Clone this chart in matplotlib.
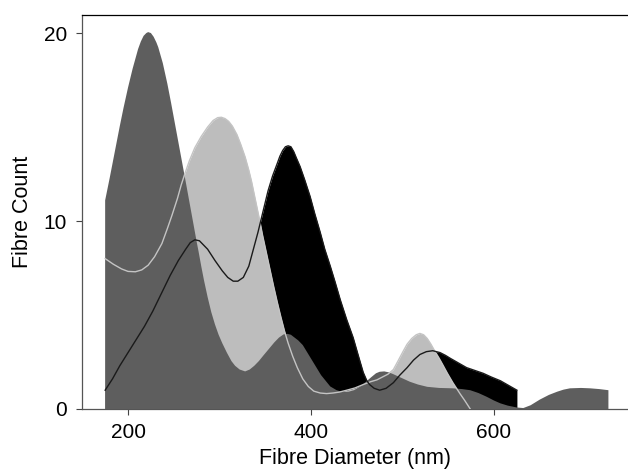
import matplotlib
matplotlib.use("Agg")
import matplotlib.pyplot as plt

plt.rcParams['font.family'] = ['Liberation Sans', 'DejaVu Sans']

# values (fibre diameter nm -> fibre count)
dark_x = [175, 175, 180, 184, 188, 191, 195, 200, 205, 211, 214, 217, 220, 222, 225,
          228, 231, 233, 238, 243, 247, 251, 255, 259, 263, 266, 269, 272, 275, 277, 280,
          283, 287, 291, 295, 299, 303, 308, 313, 317, 322, 328, 333, 338, 343, 348, 354,
          360, 365, 370, 374, 378, 382, 386, 391, 396, 401, 406, 411, 416, 421, 428, 435,
          441, 447, 454, 460, 466, 471, 475, 480, 485, 490, 499, 508, 517, 527, 540, 555,
          565, 574, 583, 592, 600, 607, 615, 625, 632, 640, 650, 660, 669, 676, 683, 695,
          705, 715, 725, 725]
dark_y = [0, 11.1, 12.3, 13.3, 14.3, 15.05, 16.0, 17.1, 18.1, 19.15, 19.55, 19.85, 20.0, 20.05, 20.0,
          19.8, 19.5, 19.25, 18.4, 17.3, 16.3, 15.25, 14.2, 13.15, 12.1, 11.3, 10.5, 9.7, 8.9, 8.4, 7.6,
          6.85, 5.95, 5.15, 4.5, 3.95, 3.5, 3.0, 2.55, 2.3, 2.1, 2.0, 2.1, 2.3, 2.55, 2.85, 3.2,
          3.55, 3.8, 3.97, 4.0, 3.95, 3.8, 3.65, 3.4, 3.0, 2.6, 2.2, 1.8, 1.5, 1.2, 1.0, 0.9,
          0.92, 1.0, 1.2, 1.45, 1.7, 1.9, 1.98, 2.0, 1.95, 1.85, 1.65, 1.45, 1.3, 1.18, 1.12, 1.1,
          1.06, 1.0, 0.85, 0.65, 0.45, 0.3, 0.18, 0.08, 0.05, 0.2, 0.5, 0.75, 0.92, 1.03, 1.1, 1.12,
          1.1, 1.06, 1.0, 0]

light_x = [175, 184, 193, 200, 208, 215, 222, 229, 237, 243, 248, 254, 258, 262, 267, 273,
           280, 287, 293, 298, 302, 306, 310, 314, 319, 323, 328, 332, 335, 338, 341, 344,
           347, 351, 355, 359, 363, 367, 371, 375, 380, 385, 391, 397, 403, 410, 417, 424,
           431, 439, 448, 457, 465, 472, 478, 484, 490, 495, 501, 505, 510, 515, 519, 523,
           527, 531, 535, 540, 544, 549, 555, 559, 563, 568, 574]
light_y = [8.0, 7.7, 7.45, 7.32, 7.3, 7.4, 7.65, 8.1, 8.8, 9.6, 10.3, 11.2, 11.9, 12.5, 13.2, 13.9,
           14.5, 15.0, 15.35, 15.5, 15.52, 15.45, 15.3, 15.05, 14.6, 14.1, 13.4, 12.7, 12.1, 11.4, 10.7, 10.0,
           9.25, 8.35, 7.45, 6.55, 5.7, 4.9, 4.15, 3.5, 2.8, 2.2, 1.6, 1.2, 0.95, 0.85, 0.82, 0.85,
           0.9, 1.0, 1.12, 1.3, 1.45, 1.55, 1.7, 1.85, 2.1, 2.55, 3.1, 3.45, 3.75, 3.95, 4.02, 3.95,
           3.75, 3.45, 3.1, 2.7, 2.35, 1.9, 1.4, 1.1, 0.8, 0.45, 0]

black_x = [175, 183, 191, 200, 209, 218, 227, 237, 246, 255, 263, 268, 273, 278, 283, 287,
           295, 303, 309, 315, 320, 326, 332, 337, 342, 346, 350, 353, 358, 363, 366, 369,
           372, 375, 378, 381, 384, 388, 393, 399, 404, 410, 415, 421, 426, 432, 439, 446,
           451, 457, 461, 464, 469, 475, 482, 490, 497, 505, 512, 519, 526, 533, 541, 547,
           552, 561, 570, 579, 588, 597, 607, 616, 625]
black_y = [1.0, 1.6, 2.3, 3.0, 3.7, 4.4, 5.2, 6.2, 7.1, 7.9, 8.5, 8.85, 9.0, 8.95, 8.7, 8.5,
           7.9, 7.35, 7.0, 6.8, 6.8, 7.0, 7.6, 8.5, 9.4, 10.2, 11.0, 11.6, 12.4, 13.05, 13.45, 13.75,
           13.95, 14.0, 13.95, 13.7, 13.35, 12.9, 12.2, 11.3, 10.4, 9.4, 8.5, 7.6, 6.8, 5.8, 4.75, 3.8,
           2.95, 1.95, 1.5, 1.3, 1.1, 1.0, 1.1, 1.4, 1.8, 2.2, 2.6, 2.9, 3.05, 3.1, 3.0, 2.85,
           2.7, 2.45, 2.2, 2.05, 1.9, 1.7, 1.5, 1.25, 1.0]

xticks = [200, 400, 600]
yticks = [0, 10, 20]

fig = plt.figure(figsize=(6.28, 4.76), dpi=100)
ax = fig.add_axes([82/628, 67/476, 546/628, 394/476])

# back to front: black, light grey, dark grey, then the outlines
ax.fill_between(black_x, black_y, 0, color='black', lw=0, zorder=1)
ax.fill_between(light_x, light_y, 0, color='#bdbdbd', lw=0, zorder=2)
ax.fill(dark_x, dark_y, color='#5e5e5e', lw=0, zorder=3)
ax.plot(light_x, light_y, color='#c4c4c4', lw=1.0, zorder=4, solid_joinstyle='round')
ax.plot(black_x, black_y, color='#1a1a1a', lw=1.0, zorder=5, solid_joinstyle='round')

ax.set_xlim(149.7, 746.4)
ax.set_ylim(0, 20.96)
ax.set_xticks(xticks)
ax.set_yticks(yticks)
ax.tick_params(direction='out', length=4.3, width=0.8, labelsize=15, color='#444444')
ax.tick_params(axis='y', pad=6.5)
ax.tick_params(axis='x', pad=6)
ax.spines['right'].set_visible(False)
for s in ['left', 'top', 'bottom']:
    ax.spines[s].set_linewidth(0.9)
ax.spines['left'].set_color('#555555')
ax.spines['bottom'].set_color('#555555')

ax.set_xlabel('Fibre Diameter (nm)', fontsize=15.5, labelpad=4)
ax.set_ylabel('Fibre Count', fontsize=15.5, labelpad=8)

fig.savefig('out.png', dpi=100)
